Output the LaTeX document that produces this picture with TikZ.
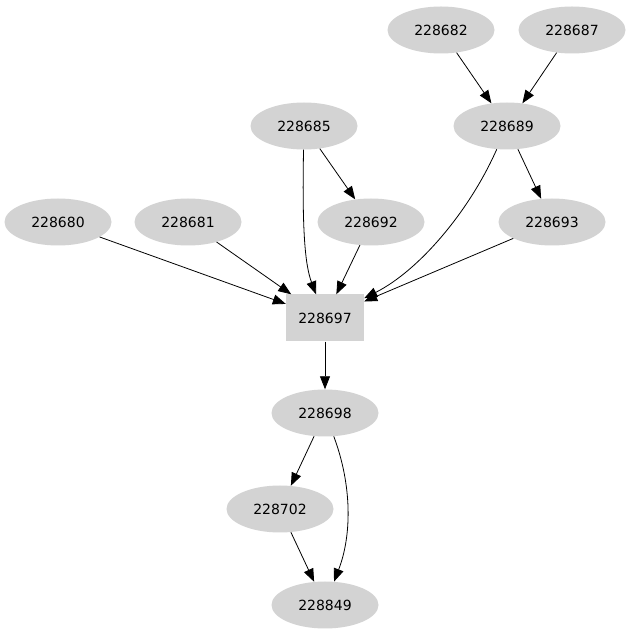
\documentclass[tikz,border=0pt]{standalone}
\usepackage{fontspec}
\setmainfont{DejaVu Sans}
\usetikzlibrary{arrows.meta,shapes.geometric}
\definecolor{lightgraycol}{HTML}{D3D3D3}
\begin{document}
\begin{tikzpicture}[x=1pt,y=1pt,
  ell/.style={ellipse,fill=lightgraycol,minimum width=107pt,minimum height=47pt,inner sep=0pt,font=\fontsize{14}{16}\selectfont},
  box/.style={rectangle,fill=lightgraycol,minimum width=78pt,minimum height=47pt,inner sep=0pt,font=\fontsize{14}{16}\selectfont},
  edge/.style={line width=0.8pt,-{Triangle[length=13pt,width=10pt]}}]
\useasboundingbox (0,0) rectangle (631,635);
\node[ell] (n82) at (441,605) {228682};
\node[ell] (n87) at (572,605) {228687};
\node[ell] (n85) at (304,509) {228685};
\node[ell] (n89) at (507,509) {228689};
\node[ell] (n80) at (58,413) {228680};
\node[ell] (n81) at (188,413) {228681};
\node[ell] (n92) at (371,413) {228692};
\node[ell] (n93) at (552,413) {228693};
\node[box] (n97) at (325,317) {228697};
\node[ell] (n98) at (325,222) {228698};
\node[ell] (n02) at (280,126) {228702};
\node[ell] (n49) at (325,30) {228849};
\draw[edge] (n82) -- (n89);
\draw[edge] (n87) -- (n89);
\draw[edge] (n85) -- (n92);
\draw[edge] (n89) -- (n93);
\draw[edge] (n85) .. controls (302,405) and (305,370) .. (n97);
\draw[edge] (n89) .. controls (470,425) and (420,365) .. (n97);
\draw[edge] (n80) -- (n97);
\draw[edge] (n81) -- (n97);
\draw[edge] (n92) -- (n97);
\draw[edge] (n93) -- (n97);
\draw[edge] (n97) -- (n98);
\draw[edge] (n98) -- (n02);
\draw[edge] (n02) -- (n49);
\draw[edge] (n98) .. controls (352,150) and (352,100) .. (n49);
\end{tikzpicture}
\end{document}
